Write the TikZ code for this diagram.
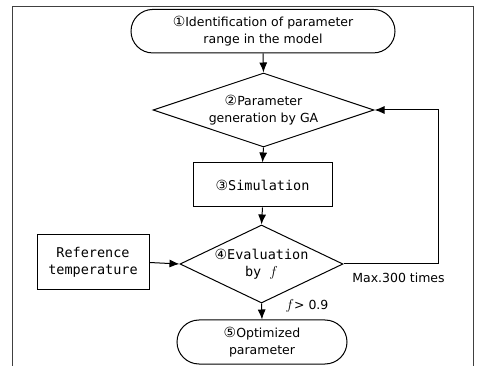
\documentclass[tikz,border=0pt]{standalone}
\usepackage{fontspec}
\setmainfont{DejaVu Sans}
\newfontfamily\monof{DejaVu Sans Mono}
\newcommand{\circnum}[1]{{\fontspec{DejaVu Sans}\fontsize{14}{16}\selectfont #1}}
\newcommand{\fsym}{{\fontsize{15}{16}\selectfont$f$}}
\usetikzlibrary{shapes.geometric,shapes.misc,arrows.meta}
\begin{document}
\begin{tikzpicture}[x=1pt,y=-1pt,
  every node/.style={font=\fontsize{12.5}{17}\selectfont, align=center, text=black},
  box/.style={draw, line width=1pt, inner sep=0pt},
  term/.style={box, rounded rectangle},
  dec/.style={box, diamond},
  proc/.style={box, rectangle},
  mono/.style={font=\monof\fontsize{13.5}{17}\selectfont},
  arr/.style={line width=1pt, -{Latex[length=10pt,width=8pt]}},
  frame/.style={line width=0.7pt, black!75}]
\useasboundingbox (0,0) rectangle (477,366);
% frame
\coordinate (fbl) at (12.7,368);
\coordinate (ftl) at (12.7,6);
\coordinate (ftr) at (473,6);
\coordinate (fbr) at (473,368);
\draw[frame] (fbl) -- (ftl) -- (ftr) -- (fbr);
% nodes
\node[term, minimum width=264pt, minimum height=43.5pt] (n1) at (263,31.2)
  {\circnum{①}Identification of parameter\\range in the model};
\node[dec, aspect=2.99, minimum width=221pt, minimum height=74pt] (d2) at (263.5,110)
  {\circnum{②}Parameter\\generation by GA};
\node[proc, mono, minimum width=139pt, minimum height=44pt] (s3) at (262.5,185)
  {\circnum{③}Simulation};
\node[dec, mono, aspect=2.09, minimum width=163pt, minimum height=78pt] (d4) at (261.5,264)
  {\circnum{④}Evaluation\\by \fsym};
\node[proc, mono, minimum width=112pt, minimum height=55pt] (r) at (93,262.5)
  {Reference\\temperature};
\node[term, minimum width=170pt, minimum height=44pt] (n5) at (262,342)
  {\circnum{⑤}Optimized\\parameter};
% connectors
\draw[arr] (n1.south) -- (d2.north);
\draw[arr] (d2.south) -- (s3.north);
\draw[arr] (s3.south) -- (d4.north);
\draw[arr] (r.east) -- (d4.west);
\draw[arr] (d4.south) -- (n5.north);
\node (thr) at (307,306) {\fsym> 0.9};
\coordinate (loop) at (438,264);
\draw[arr] (d4.east) -- (loop) |- (d2.east);
\node (max) at (398.5,278) {Max.300 times};
\end{tikzpicture}
\end{document}
